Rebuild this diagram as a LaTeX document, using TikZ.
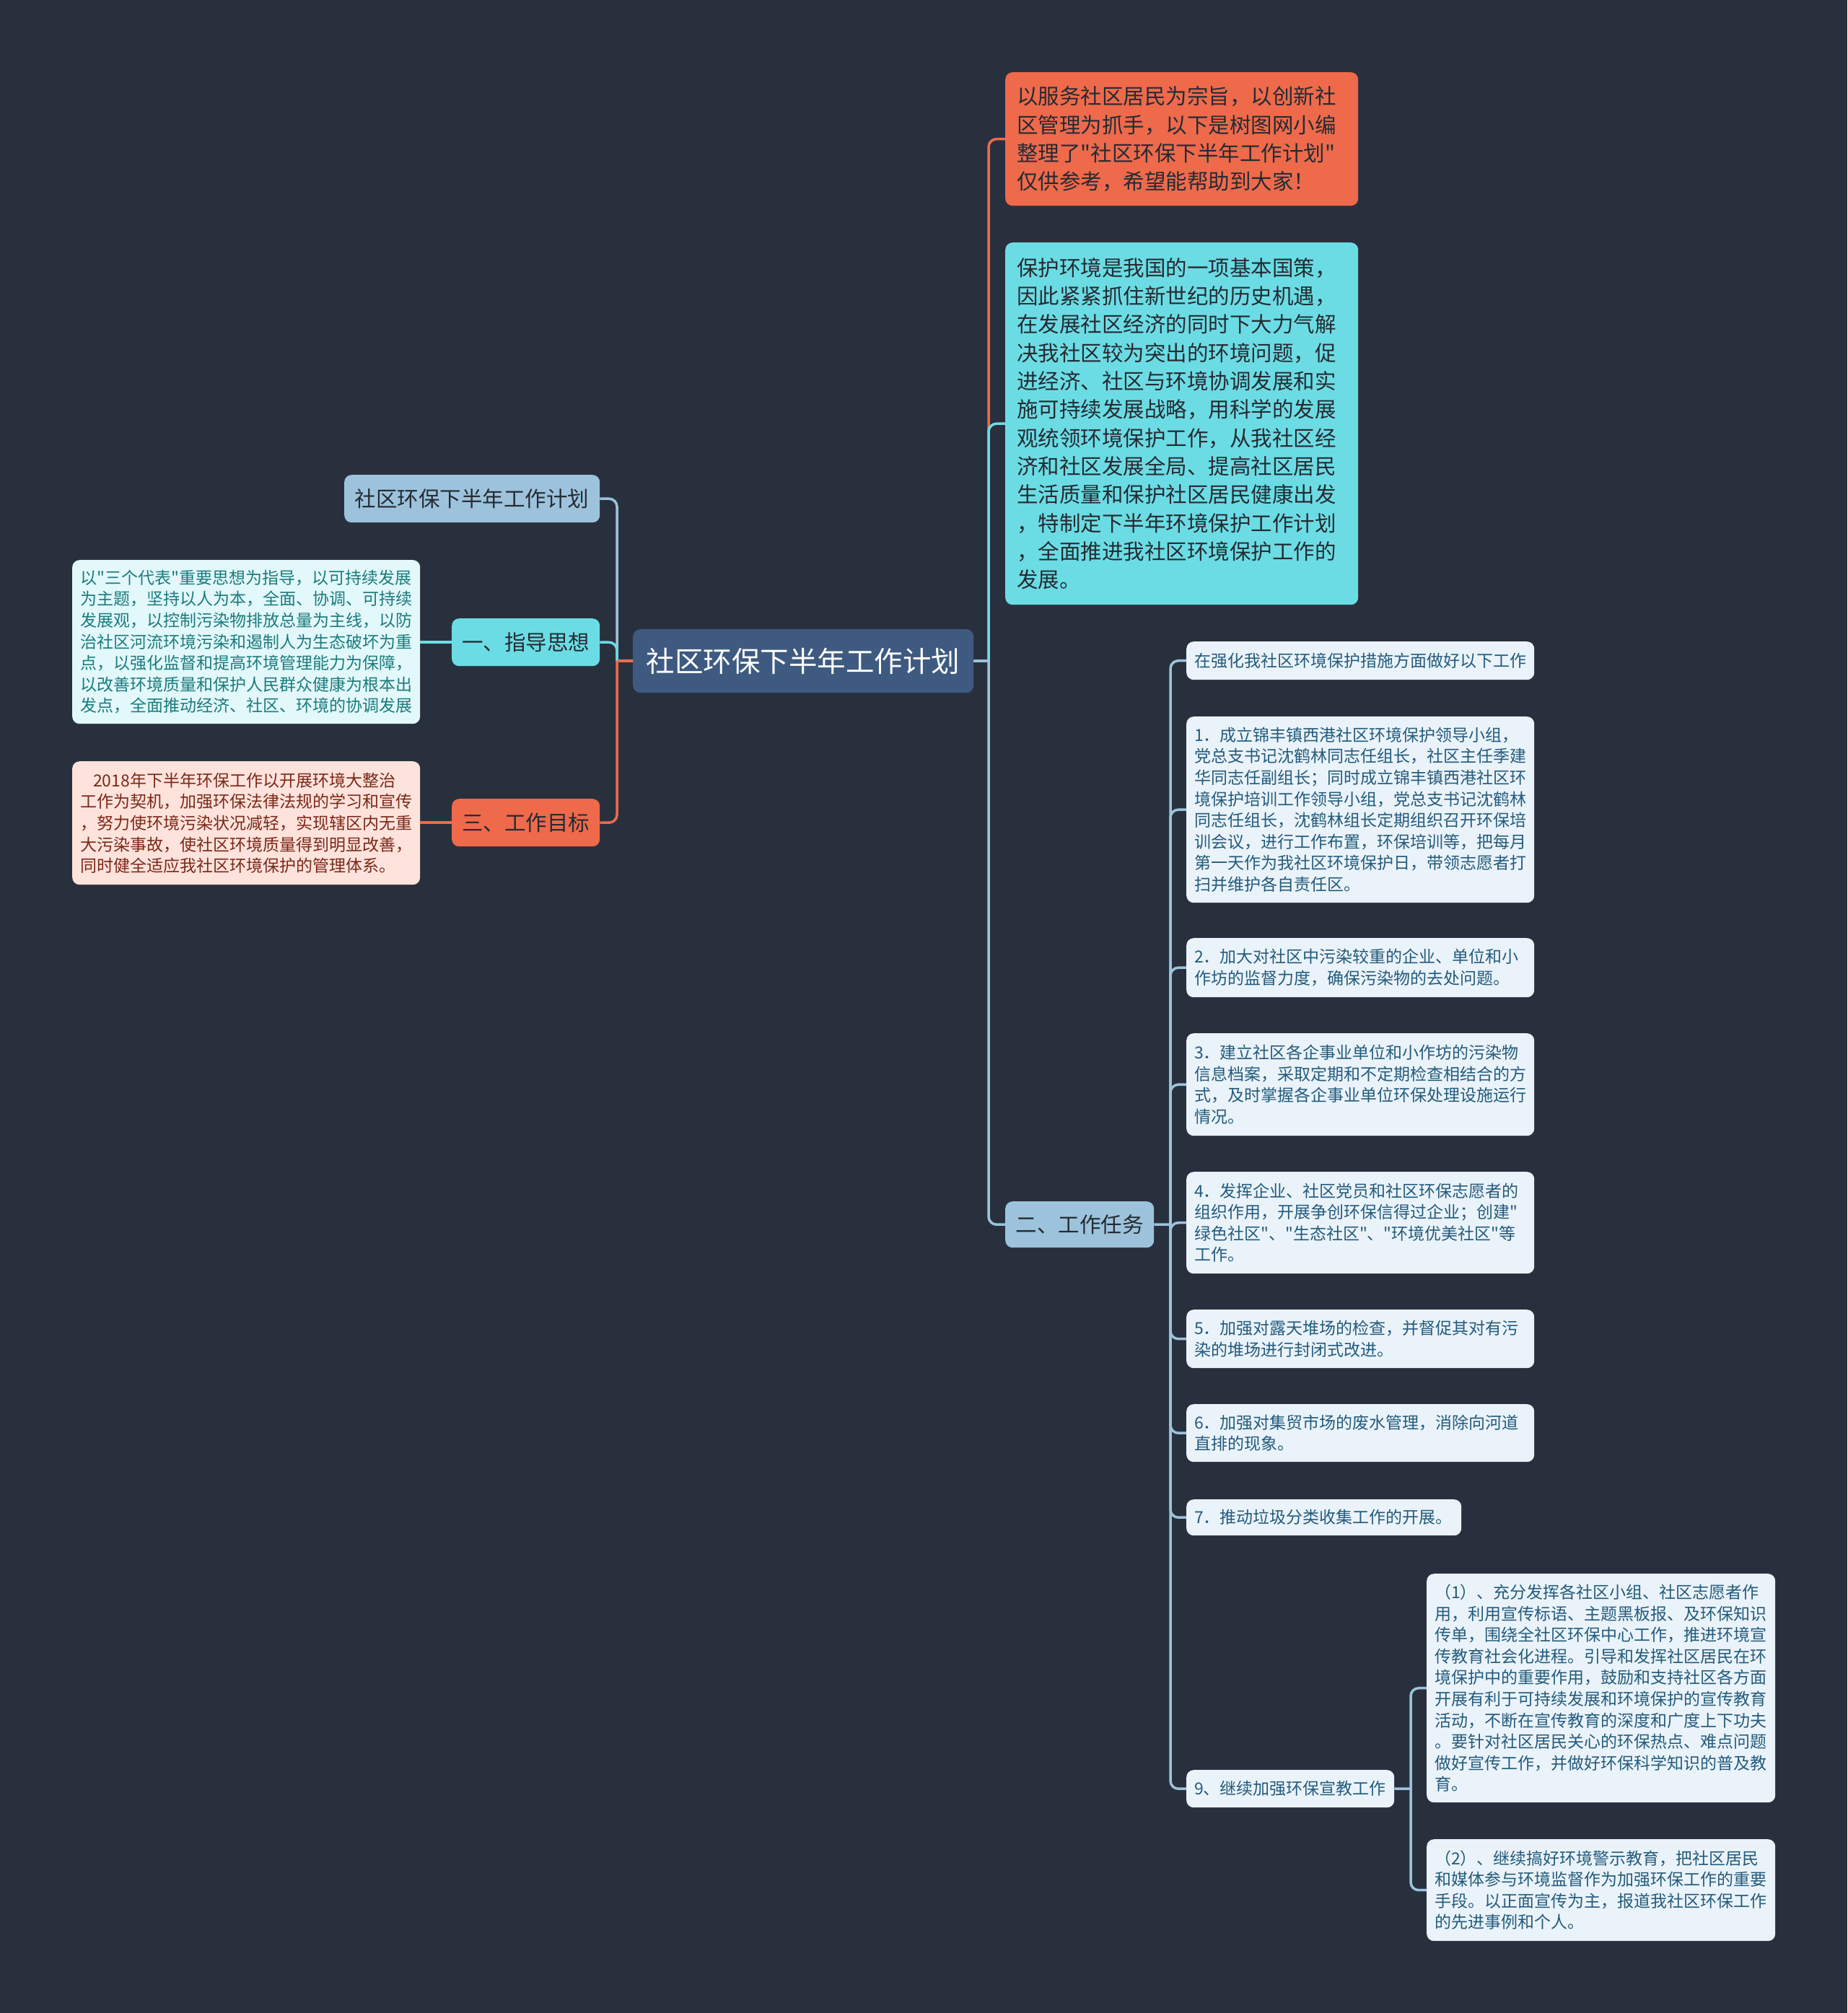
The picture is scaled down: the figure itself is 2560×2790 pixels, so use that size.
\documentclass[tikz,border=0pt]{standalone}
\usepackage{fontspec}
\setmainfont{Noto Sans CJK SC}[Ligatures=TeXOff]
\setlength{\parindent}{0pt}
\definecolor{bgc}{HTML}{29303D}
\definecolor{rootc}{HTML}{3E5A80}
\definecolor{redc}{HTML}{EE6A4B}
\definecolor{cyanc}{HTML}{6CDCE4}
\definecolor{bluec}{HTML}{9DC3DC}
\definecolor{leafc}{HTML}{EAF3F9}
\definecolor{leaft}{HTML}{245B7D}
\definecolor{tealbg}{HTML}{E2F8FA}
\definecolor{tealt}{HTML}{1C7B7E}
\definecolor{pinkbg}{HTML}{FDE3DC}
\definecolor{pinkt}{HTML}{7C2818}
\definecolor{darkt}{HTML}{252B33}
\begin{document}
\begin{tikzpicture}[x=1pt,y=-1pt,
  box/.style={rounded corners=10pt, anchor=north west, inner ysep=0pt, align=left},
  cbox/.style={rounded corners=10pt, anchor=north west, inner sep=0pt, align=center},
  big/.style={font=\fontsize{29.5}{39.3}\selectfont},
  small/.style={font=\fontsize{23}{29.6}\selectfont},
  leaf/.style={box, small, fill=leafc, text=leaft, inner xsep=11pt, text width=460pt},
  ln/.style={line width=3.5pt},
  lnr/.style={ln, rounded corners=11pt}
]
\fill[bgc] (0,0) rectangle (2560,2790);
\useasboundingbox (0,0) rectangle (2560,2790);

% root
\node[cbox, fill=rootc, text=white, minimum width=472pt, minimum height=88pt,
  font=\fontsize{39.5}{44}\selectfont] (root) at (877,872) {社区环保下半年工作计划};

% right upper nodes
\node[box, big, fill=redc, text=darkt, inner xsep=16pt, text width=457pt, minimum height=185pt] (intro) at (1393,100) {以服务社区居民为宗旨，以创新社\\
区管理为抓手，以下是树图网小编\\
整理了"社区环保下半年工作计划"\\
仅供参考，希望能帮助到大家！};

\node[box, big, fill=cyanc, text=darkt, inner xsep=16pt, text width=457pt, minimum height=502pt] (desc) at (1393,336) {保护环境是我国的一项基本国策，\\
因此紧紧抓住新世纪的历史机遇，\\
在发展社区经济的同时下大力气解\\
决我社区较为突出的环境问题，促\\
进经济、社区与环境协调发展和实\\
施可持续发展战略，用科学的发展\\
观统领环境保护工作，从我社区经\\
济和社区发展全局、提高社区居民\\
生活质量和保护社区居民健康出发\\
，特制定下半年环境保护工作计划\\
，全面推进我社区环境保护工作的\\
发展。};

\node[cbox, big, fill=bluec, text=darkt, minimum width=206pt, minimum height=64pt] (rtask) at (1393,1665) {二、工作任务};

% left nodes
\node[cbox, big, fill=bluec, text=darkt, minimum width=354pt, minimum height=66pt] (lplan) at (477,658) {社区环保下半年工作计划};
\node[cbox, big, fill=cyanc, text=darkt, minimum width=205pt, minimum height=66pt] (lguide) at (626,857) {一、指导思想};
\node[cbox, big, fill=redc, text=darkt, minimum width=205pt, minimum height=66pt] (lgoal) at (626,1107) {三、工作目标};

\node[box, small, fill=tealbg, text=tealt, inner xsep=11pt, text width=460pt, minimum height=227pt] (ltext) at (100,776) {以"三个代表"重要思想为指导，以可持续发展\\
为主题，坚持以人为本，全面、协调、可持续\\
发展观，以控制污染物排放总量为主线，以防\\
治社区河流环境污染和遏制人为生态破坏为重\\
点，以强化监督和提高环境管理能力为保障，\\
以改善环境质量和保护人民群众健康为根本出\\
发点，全面推动经济、社区、环境的协调发展};

\node[box, small, fill=pinkbg, text=pinkt, inner xsep=11pt, text width=460pt, minimum height=171pt] (lpink) at (100,1055) {\hspace*{18pt}2018年下半年环保工作以开展环境大整治\\
工作为契机，加强环保法律法规的学习和宣传\\
，努力使环境污染状况减轻，实现辖区内无重\\
大污染事故，使社区环境质量得到明显改善，\\
同时健全适应我社区环境保护的管理体系。};

% right task items
\node[leaf, minimum height=53pt] (rhead) at (1644,889) {在强化我社区环境保护措施方面做好以下工作};
\node[leaf, minimum height=258pt] (r1) at (1644,993) {1．成立锦丰镇西港社区环境保护领导小组，\\
党总支书记沈鹤林同志任组长，社区主任季建\\
华同志任副组长；同时成立锦丰镇西港社区环\\
境保护培训工作领导小组，党总支书记沈鹤林\\
同志任组长，沈鹤林组长定期组织召开环保培\\
训会议，进行工作布置，环保培训等，把每月\\
第一天作为我社区环境保护日，带领志愿者打\\
扫并维护各自责任区。};
\node[leaf, minimum height=82pt] (r2) at (1644,1300) {2．加大对社区中污染较重的企业、单位和小\\
作坊的监督力度，确保污染物的去处问题。};
\node[leaf, minimum height=142pt] (r3) at (1644,1432) {3．建立社区各企事业单位和小作坊的污染物\\
信息档案，采取定期和不定期检查相结合的方\\
式，及时掌握各企事业单位环保处理设施运行\\
情况。};
\node[leaf, minimum height=141pt] (r4) at (1644,1624) {4．发挥企业、社区党员和社区环保志愿者的\\
组织作用，开展争创环保信得过企业；创建"\\
绿色社区"、"生态社区"、"环境优美社区"等\\
工作。};
\node[leaf, minimum height=81pt] (r5) at (1644,1815) {5．加强对露天堆场的检查，并督促其对有污\\
染的堆场进行封闭式改进。};
\node[leaf, minimum height=80pt] (r6) at (1644,1946) {6．加强对集贸市场的废水管理，消除向河道\\
直排的现象。};
\node[leaf, text width=359pt, minimum height=50pt] (r7) at (1644,2078) {7．推动垃圾分类收集工作的开展。};
\node[leaf, text width=266pt, minimum height=52pt] (r9) at (1644,2453) {9、继续加强环保宣教工作};
\node[leaf, text width=461pt, minimum height=317pt] (r9a) at (1977,2181) {（1）、充分发挥各社区小组、社区志愿者作\\
用，利用宣传标语、主题黑板报、及环保知识\\
传单，围绕全社区环保中心工作，推进环境宣\\
传教育社会化进程。引导和发挥社区居民在环\\
境保护中的重要作用，鼓励和支持社区各方面\\
开展有利于可持续发展和环境保护的宣传教育\\
活动，不断在宣传教育的深度和广度上下功夫\\
。要针对社区居民关心的环保热点、难点问题\\
做好宣传工作，并做好环保科学知识的普及教\\
育。};
\node[leaf, text width=461pt, minimum height=141pt] (r9b) at (1977,2549) {（2）、继续搞好环境警示教育，把社区居民\\
和媒体参与环境监督作为加强环保工作的重要\\
手段。以正面宣传为主，报道我社区环保工作\\
的先进事例和个人。};

% junction coordinates
\coordinate (tR) at (1370,916);
\coordinate (tL) at (855,916);
\coordinate (tT) at (1622,1697);
\coordinate (t9) at (1955,2479);

% right of root
\draw[ln, redc] (root.east) -- (tR);
\draw[lnr, redc] (tR) |- (intro.west);
\draw[ln, cyanc] (root.east) -- (tR);
\draw[lnr, cyanc] (tR) |- (desc.west);
\draw[ln, bluec] (root.east) -- (tR);
\draw[lnr, bluec] (tR) |- (rtask.west);

% left of root
\draw[ln, bluec] (root.west) -- (tL);
\draw[lnr, bluec] (tL) |- (lplan.east);
\draw[ln, cyanc] (root.west) -- (tL);
\draw[lnr, cyanc] (tL) |- (lguide.east);
\draw[ln, redc] (root.west) -- (tL);
\draw[lnr, redc] (tL) |- (lgoal.east);

\draw[ln, cyanc] (lguide.west) -- (lguide.west -| ltext.east);
\draw[ln, redc] (lgoal.west) -- (lgoal.west -| lpink.east);

% task subtree
\draw[ln, bluec] (rtask.east) -- (tT);
\foreach \n in {rhead,r1,r2,r3,r4,r5,r6,r7,r9}{
  \draw[lnr, bluec] (tT) |- (\n.west);
}
\draw[ln, bluec] (r9.east) -- (t9);
\draw[lnr, bluec] (t9) |- (r9a.west);
\draw[lnr, bluec] (t9) |- (r9b.west);
\end{tikzpicture}
\end{document}
